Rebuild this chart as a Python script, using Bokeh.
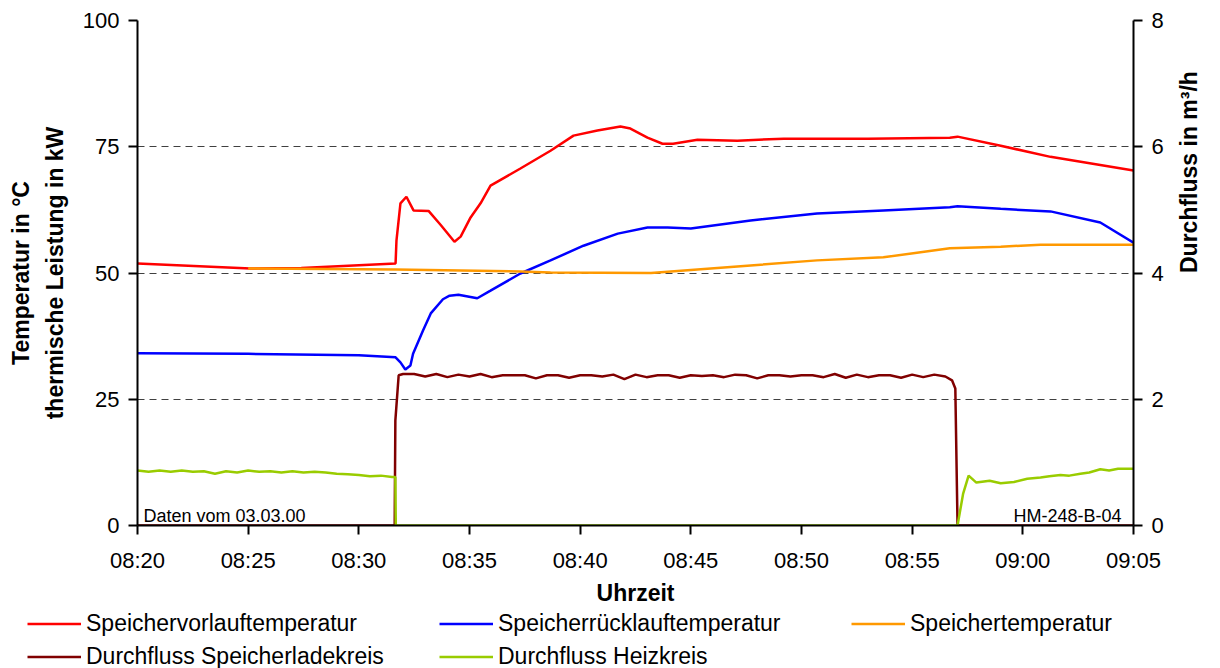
from math import pi

import pandas as pd
from bokeh.embed import file_html
from bokeh.layouts import column, row
from bokeh.models import (DatetimeTickFormatter, FixedTicker, Label, Legend,
                          LegendItem, LinearAxis, Range1d)
from bokeh.plotting import figure
from bokeh.resources import INLINE

# --- measurement data, 03.03.2000, time in minutes after 08:20 ---------------
vorlauf_min = [0, 5.1, 7.4, 11.66, 11.7, 11.88, 12.15, 12.47, 13.15, 13.7, 14.32,
               14.6, 15.05, 15.5, 15.95, 17.3, 18.66, 19.7, 20.78, 21.82, 22.27,
               23.04, 23.72, 24.2, 25.3, 27.1, 29.2, 33.0, 36.7, 37.05, 39.0,
               41.25, 45.0]
vorlauf_temp = [51.9, 50.9, 51.0, 51.9, 56.4, 63.8, 65.1, 62.4, 62.3, 59.5, 56.2,
                57.2, 61.0, 63.8, 67.3, 70.7, 74.2, 77.2, 78.2, 79.0, 78.6,
                76.8, 75.6, 75.6, 76.4, 76.2, 76.6, 76.6, 76.8, 77.0, 75.2,
                73.0, 70.3]

ruecklauf_min = [0, 5, 10, 11.66, 11.88, 12.1, 12.33, 12.45, 12.9, 13.25, 13.8,
                 14.1, 14.5, 15.35, 15.95, 17.3, 18.66, 20.15, 21.7, 23.04, 23.95,
                 25.0, 27.7, 30.7, 33.7, 36.7, 37.05, 39.0, 41.25, 43.5, 45.0]
ruecklauf_temp = [34.1, 34.0, 33.7, 33.3, 32.3, 30.9, 31.7, 34.0, 38.6, 42.0, 44.8,
                  45.5, 45.7, 45.0, 46.5, 49.9, 52.5, 55.4, 57.8, 59.0, 59.0,
                  58.8, 60.4, 61.8, 62.4, 63.0, 63.2, 62.7, 62.2, 60.0, 56.0]

speicher_min = [5.0, 11.66, 17.3, 18.66, 23.2, 27.7, 30.7, 33.7, 36.7, 39.0, 40.8, 45.0]
speicher_temp = [50.9, 50.7, 50.3, 50.1, 50.0, 51.5, 52.5, 53.1, 54.9, 55.2, 55.6, 55.6]

# flow in the storage charging loop, m³/h
ladekreis_min = [0, 11.62, 11.65, 11.8,
                 12.0, 12.5, 13.0, 13.5, 14.0, 14.5, 15.0, 15.5, 16.0, 16.5,
                 17.0, 17.5, 18.0, 18.5, 19.0, 19.5, 20.0, 20.5, 21.0, 21.5,
                 22.0, 22.5, 23.0, 23.5, 24.0, 24.5, 25.0, 25.5, 26.0, 26.5,
                 27.0, 27.5, 28.0, 28.5, 29.0, 29.5, 30.0, 30.5, 31.0, 31.5,
                 32.0, 32.5, 33.0, 33.5, 34.0, 34.5, 35.0, 35.5, 36.0, 36.5,
                 36.8, 36.95, 37.05, 45.0]
ladekreis_flow = [0, 0, 1.66, 2.38,
                  2.40, 2.40, 2.36, 2.40, 2.35, 2.39, 2.36, 2.40, 2.35, 2.38,
                  2.38, 2.38, 2.33, 2.38, 2.38, 2.34, 2.38, 2.38, 2.36, 2.39,
                  2.32, 2.39, 2.35, 2.38, 2.38, 2.34, 2.38, 2.37, 2.38, 2.35,
                  2.39, 2.38, 2.33, 2.38, 2.38, 2.36, 2.38, 2.38, 2.35, 2.40,
                  2.34, 2.39, 2.35, 2.38, 2.38, 2.34, 2.39, 2.35, 2.39, 2.36,
                  2.30, 2.17, 0, 0]

# flow in the heating loop, m³/h
heizkreis_min = [0, 0.5, 1.0, 1.5, 2.0, 2.5, 3.0, 3.5, 4.0, 4.5, 5.0, 5.5, 6.0,
                 6.5, 7.0, 7.5, 8.0, 8.5, 9.0, 9.5, 10.0, 10.5, 11.0, 11.5, 11.65,
                 11.67, 37.05, 37.3, 37.55, 37.9, 38.5, 39.0, 39.6, 40.2, 40.8,
                 41.2, 41.7, 42.1, 42.6, 43.0, 43.5, 43.9, 44.3, 45.0]
heizkreis_flow = [0.87, 0.85, 0.87, 0.85, 0.87, 0.85, 0.86, 0.82, 0.86, 0.84, 0.87,
                  0.85, 0.86, 0.84, 0.86, 0.84, 0.85, 0.84, 0.82, 0.81, 0.80,
                  0.78, 0.79, 0.77, 0.77,
                  0, 0, 0.50, 0.79, 0.68, 0.71, 0.67, 0.69, 0.74, 0.76,
                  0.78, 0.80, 0.79, 0.82, 0.84, 0.89, 0.87, 0.90, 0.90]

series_names = ["Speichervorlauftemperatur", "Speicherrücklauftemperatur",
                "Speichertemperatur", "Durchfluss Speicherladekreis",
                "Durchfluss Heizkreis"]
series_colors = ["#FF0000", "#0000FF", "#FF9900", "#800000", "#99CC00"]

temp_ticks = [0, 25, 50, 75, 100]
flow_ticks = [0, 2, 4, 6, 8]
time_ticks_min = list(range(0, 46, 5))

T0 = pd.Timestamp("2000-03-03 08:20:00")


def clock(minutes):
    return (T0 + pd.to_timedelta(minutes, unit="m")).values


def ms(minute):
    return (T0 + pd.Timedelta(minutes=minute)).value / 1e6


FONT = "Liberation Sans"
LINE_W = 2.5

series = [(vorlauf_min, vorlauf_temp, None), (ruecklauf_min, ruecklauf_temp, None),
          (speicher_min, speicher_temp, None), (ladekreis_min, ladekreis_flow, "flow"),
          (heizkreis_min, heizkreis_flow, "flow")]

p = figure(width=1220, height=608, x_axis_type="datetime",
           x_range=Range1d(ms(0), ms(45)), y_range=Range1d(0, 100),
           output_backend="svg", toolbar_location=None,
           min_border_left=137, min_border_right=87,
           min_border_top=20, min_border_bottom=83,
           outline_line_color=None)
p.extra_y_ranges = {"flow": Range1d(0, 8)}

left_axis = p.yaxis[0]
left_axis.ticker = FixedTicker(ticks=temp_ticks)
left_axis.axis_label = "Temperatur in °C\nthermische Leistung in kW"
left_axis.axis_label_standoff = 12
left_axis.axis_label_text_line_height = 1.3

right_axis = LinearAxis(y_range_name="flow", ticker=FixedTicker(ticks=flow_ticks))
right_axis.axis_label = "Durchfluss in m³/h"
right_axis.axis_label_standoff = 22
if "axis_label_orientation" in right_axis.properties():
    # read bottom-to-top like the left axis title
    right_axis.axis_label_orientation = pi / 2
p.add_layout(right_axis, "right")

p.xaxis.ticker = FixedTicker(ticks=[ms(m) for m in time_ticks_min])
p.xaxis.formatter = DatetimeTickFormatter(
    seconds="%H:%M", minsec="%H:%M", minutes="%H:%M",
    hourmin="%H:%M", hours="%H:%M")
p.xaxis.axis_label = "Uhrzeit"
p.xaxis.axis_label_standoff = 4

for ax in [p.xaxis[0], left_axis, right_axis]:
    ax.axis_line_color = "black"
    ax.axis_line_width = 2
    ax.major_tick_line_color = "black"
    ax.major_tick_line_width = 2
    ax.major_tick_in = 0
    ax.major_tick_out = 9
    ax.minor_tick_in = 0
    ax.minor_tick_out = 0
    ax.major_label_standoff = 9
    ax.major_label_text_font = FONT
    ax.major_label_text_font_size = "22px"
    ax.major_label_text_color = "black"
    ax.axis_label_text_font = FONT
    ax.axis_label_text_font_size = "23px"
    ax.axis_label_text_font_style = "bold"
    ax.axis_label_text_color = "black"

p.xaxis.major_label_standoff = 13
p.xgrid.visible = False
p.ygrid.ticker = FixedTicker(ticks=[25, 50, 75, 100])
p.ygrid.grid_line_color = "#404040"
p.ygrid.grid_line_dash = "7 5"
p.ygrid.grid_line_width = 1

# --- curves ------------------------------------------------------------------
for (t, v, rng), color in zip(series, series_colors):
    kw = {"y_range_name": rng} if rng else {}
    p.line(clock(t), v, color=color, line_width=LINE_W, **kw)

# --- notes inside the plot area ----------------------------------------------
p.add_layout(Label(x=ms(0), y=0, x_offset=6, y_offset=10, text="Daten vom 03.03.00",
                   text_font=FONT, text_font_size="18px", text_color="black",
                   text_baseline="alphabetic"))
p.add_layout(Label(x=ms(45), y=0, x_offset=-12, y_offset=10, text="HM-248-B-04",
                   text_font=FONT, text_font_size="18px", text_color="black",
                   text_align="right", text_baseline="alphabetic"))

# --- legend strip below the chart --------------------------------------------
# the key lines carry the same series, but the strip's window lies far away
# from their values, so only the legend entries are visible here
lf = figure(width=1220, height=60, output_backend="svg", toolbar_location=None,
            x_axis_location=None, y_axis_location=None,
            min_border_left=0, min_border_right=0, min_border_top=0,
            min_border_bottom=0, outline_line_color=None,
            x_range=Range1d(ms(0), ms(45)), y_range=Range1d(1000, 1001))
lf.grid.visible = False
keys = [lf.line(clock(t), v, color=c, line_width=LINE_W)
        for (t, v, _), c in zip(series, series_colors)]
legend = Legend(items=[LegendItem(label=n, renderers=[r])
                       for n, r in zip(series_names, keys)],
                location=(27, -1.5), orientation="horizontal", ncols=3,
                glyph_width=54, glyph_height=27, label_height=27, label_width=347,
                label_standoff=5, spacing=6, padding=0, margin=0,
                border_line_color=None, background_fill_alpha=0,
                label_text_font=FONT, label_text_font_size="23px",
                label_text_color="black")
lf.add_layout(legend, "center")

open("out.html", "w").write(file_html(column(p, row(lf), spacing=0), INLINE))
